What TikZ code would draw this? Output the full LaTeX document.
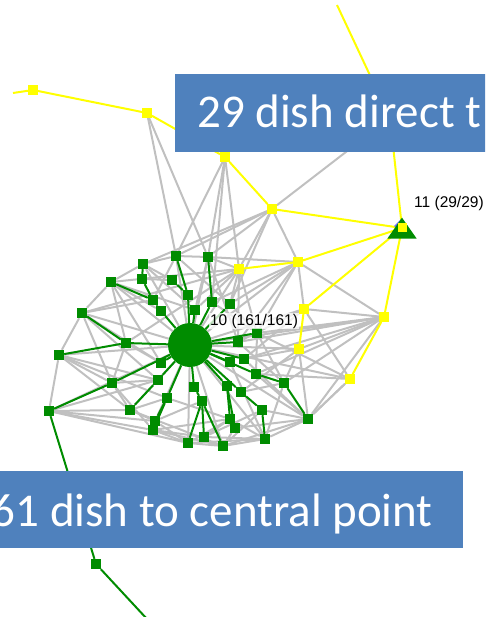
\documentclass[tikz,border=0pt]{standalone}
\usepackage{fontspec}
\setmainfont{Carlito}
\newfontfamily\lblfont{Liberation Sans}
\usepackage{tikz}
\usetikzlibrary{shapes.geometric}
\pgfdeclarelayer{bg}
\pgfsetlayers{bg,main}

\definecolor{netgreen}{RGB}{0,140,0}
\definecolor{netyellow}{RGB}{255,255,0}
\definecolor{netgray}{RGB}{192,192,192}
\definecolor{boxblue}{RGB}{79,129,189}
\definecolor{tipblue}{RGB}{110,110,255}

\tikzset{
    gsq/.style={rectangle, fill=netgreen, minimum size=10pt, inner sep=0pt},
    ysq/.style={rectangle, fill=netyellow, minimum size=9.5pt, inner sep=0pt},
    grayline/.style={netgray, line width=2pt},
    greenline/.style={netgreen, line width=2pt},
    yellowline/.style={netyellow, line width=2pt},
    banner/.style={fill=boxblue, draw=none},
    bannertext/.style={text=white, font=\fontsize{47}{50}\selectfont, inner sep=0pt},
    countlabel/.style={font=\lblfont\fontsize{15.5}{16}\selectfont, inner sep=1pt}
}

\begin{document}
\begin{tikzpicture}[x=1pt, y=-1pt]
    \useasboundingbox (0,0) rectangle (485,617);
    \clip (0,0) rectangle (485,617);

    % Yellow nodes (the direct dishes)
    \node[ysq] (ya) at (33,90) {};
    \node[ysq] (yb) at (147,113) {};
    \node[ysq] (yc) at (225,157) {};
    \node[ysq] (yd) at (272,209) {};
    \node[ysq] (yh) at (390,118) {};
    \node[ysq] (ye) at (298,262) {};
    \node[ysq] (yf) at (239,269) {};
    \node[ysq] (yg) at (304,309) {};
    \node[ysq] (yi) at (384,317) {};
    \node[ysq] (yj) at (299,349) {};
    \node[ysq] (yk) at (350,379) {};
    \coordinate (ystart) at (13,93);
    \coordinate (ytop) at (337,5);

    % Node 11, the direct point
    \node[diamond, fill=tipblue, minimum size=14pt, inner sep=0pt] (n11tip) at (401,226) {};
    \node[isosceles triangle, shape border rotate=90, fill=netgreen, minimum height=21pt,
          isosceles triangle apex angle=70, inner sep=0pt] (n11) at (402,231) {};
    \node[ysq, minimum size=9pt] (n11sq) at (402,228) {};

    % Green nodes (the dishes to the central point)
    \node[circle, fill=netgreen, minimum size=44pt, inner sep=0pt] (hub) at (190,345) {};
    \node[gsq] (a1) at (176,256) {};
    \node[gsq] (a2) at (208,257) {};
    \node[gsq] (a3) at (143,264) {};
    \node[gsq] (a4) at (142,279) {};
    \node[gsq] (a5) at (172,280) {};
    \node[gsq] (a6) at (111,282) {};
    \node[gsq] (a7) at (188,295) {};
    \node[gsq] (a8) at (153,300) {};
    \node[gsq] (a9) at (212,302) {};
    \node[gsq] (a10) at (230,304) {};
    \node[gsq] (a11) at (161,311) {};
    \node[gsq] (a12) at (195,310) {};
    \node[gsq] (a13) at (82,313) {};
    \node[gsq] (a14) at (257,333) {};
    \node[gsq] (a15) at (238,342) {};
    \node[gsq] (a16) at (126,343) {};
    \node[gsq] (a17) at (59,355) {};
    \node[gsq] (a18) at (244,359) {};
    \node[gsq] (a19) at (230,362) {};
    \node[gsq] (a20) at (161,363) {};
    \node[gsq] (a21) at (256,374) {};
    \node[gsq] (a22) at (112,383) {};
    \node[gsq] (a23) at (158,380) {};
    \node[gsq] (a24) at (284,383) {};
    \node[gsq] (a25) at (194,387) {};
    \node[gsq] (a26) at (227,386) {};
    \node[gsq] (a27) at (241,392) {};
    \node[gsq] (a28) at (167,398) {};
    \node[gsq] (a29) at (202,401) {};
    \node[gsq] (a30) at (49,411) {};
    \node[gsq] (a31) at (130,410) {};
    \node[gsq] (a32) at (262,410) {};
    \node[gsq] (a33) at (230,419) {};
    \node[gsq] (a34) at (308,419) {};
    \node[gsq] (a35) at (155,421) {};
    \node[gsq] (a36) at (153,430) {};
    \node[gsq] (a37) at (235,428) {};
    \node[gsq] (a38) at (204,437) {};
    \node[gsq] (a39) at (265,439) {};
    \node[gsq] (a40) at (188,443) {};
    \node[gsq] (a41) at (223,446) {};
    \node[gsq] (a42) at (96,564) {};
    \coordinate (gend) at (147,619);

    \begin{pgfonlayer}{bg}
        % Gray mesh between the dishes
        \foreach \p/\q in {yb/a1, yb/a2, yc/a1, yc/a2, yc/yf, yc/a9, yd/a1, yd/a3, yd/ye,
            yd/yf, yd/a10, yd/yh, yd/a2, ye/a10, ye/a14, ye/yi, ye/a15, ye/yg, ye/a2, ye/a9,
            yf/a13, yf/a6, yf/a16, yf/a12, yf/a14, yi/a14, yi/yj, yi/a24, yi/a21, yi/a18,
            yi/yg, yi/a34, yi/a15, yk/a34, yk/yg, yk/a14, yk/a21, yj/a24, yj/a34, yj/a18,
            yj/a27, yg/a18, yg/a15, a6/a13, a13/a17, a17/a30, a6/a3, a3/a1, a1/a2, a2/yf,
            a30/a31, a30/a36, a36/a40, a40/a41, a41/a39, a39/a34, a34/yk, a6/a16, a13/a22,
            a17/a22, a17/a31, a30/a35, a13/a8, a6/a11, a3/a5, a1/a8, a2/a12, a16/a20,
            a22/a23, a31/a35, a31/a28, a36/a38, a40/a33, a41/a37, a39/a33, a32/a34,
            a24/a27, a33/a38, a35/a29, a22/a31, a17/a23, a13/a20, a6/a12, a16/a22,
            a30/a23, a36/a41, a35/a40, a24/a39, a21/a34, a14/a24, a14/a21, a10/a14,
            a9/a14, a15/a24, a18/a34, a19/a39, a32/a41, a38/a39, a37/a34, a28/a33,
            hub/a17, hub/a13, hub/a6, hub/a30, hub/a36, hub/a40, hub/a3, hub/a1, hub/a2,
            hub/yf, hub/yg, hub/yi, hub/a34, hub/a39, hub/a41, hub/yj, hub/ye, hub/yk,
            hub/a31, hub/a35, a4/a5, a3/a12, a1/a10, a2/a15, a6/a20, a13/a23, a17/a28,
            a22/a36, a30/a40, a31/a41, a36/a33, a40/a39, a41/a34, a38/a32, yf/a10, yf/a15}
            \draw[grayline] (\p) -- (\q);

        % Green links to the central point
        \foreach \p/\q in {a1/a7, a5/a7, a7/hub, a2/a9, a9/hub, a3/a4, a4/a8, a6/a8,
            a8/a11, a11/hub, a12/hub, a10/hub, a13/a16, a17/a16, a16/hub, a30/a22,
            a22/hub, a30/a42, a42/gend, a31/a23, a23/hub, a35/a28, a36/a28, a28/hub,
            a40/a29, a38/a29, a41/a29, a29/a25, a25/hub, a33/a26, a37/a26, a26/hub,
            a39/a32, a32/a27, a27/hub, a34/a24, a24/a21, a21/hub, a14/hub, a15/hub,
            a18/hub, a19/hub, a20/hub}
            \draw[greenline] (\p) -- (\q);

        % Yellow links direct to node 11
        \foreach \p/\q in {ystart/ya, ya/yb, yb/yc, yc/yd, yd/n11sq, ytop/yh, yh/n11sq,
            yf/ye, ye/n11sq, yg/n11sq, yg/yj, n11sq/yi, yi/yk}
            \draw[yellowline] (\p) -- (\q);
    \end{pgfonlayer}

    % Count labels
    \node[countlabel, fill=white, fill opacity=0.75, text opacity=1] (lbl10) at (254,321) {10 (161/161)};
    \node[countlabel, anchor=west] (lbl11) at (413,203) {11 (29/29)};

    % Banners
    \fill[banner] (175,74) rectangle (490,152);
    \node[bannertext, anchor=base west] (banner29) at (197,128) {29 dish direct t};
    \fill[banner] (-5,471) rectangle (463,548);
    \node[bannertext, anchor=base east] (banner161) at (433,526) {161 dish to central point};
\end{tikzpicture}
\end{document}
